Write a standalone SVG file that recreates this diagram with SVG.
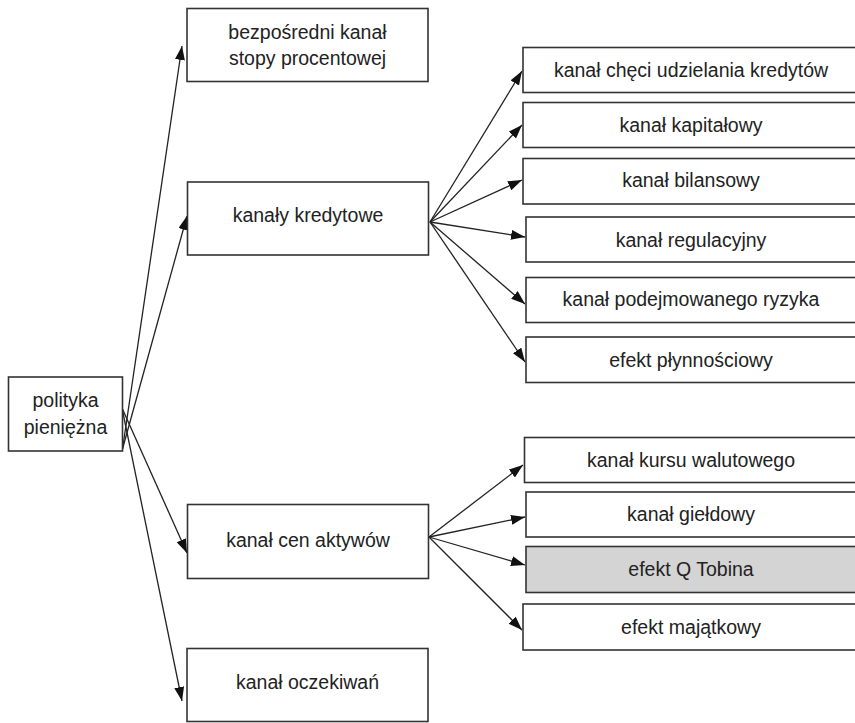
<svg xmlns="http://www.w3.org/2000/svg" width="855" height="723" viewBox="0 0 855 723">
<style>
.box{fill:#fff;stroke:#333;stroke-width:1.6}
.grey{fill:#d4d4d4}
.t{font-family:"Liberation Sans",Arial,sans-serif;font-size:19.5px;fill:#222;text-anchor:middle;dominant-baseline:central}
.c{stroke:#222;stroke-width:1.3;fill:none;marker-end:url(#ah)}
</style>
<defs>
<marker id="ah" markerUnits="userSpaceOnUse" markerWidth="15" markerHeight="11" refX="14" refY="5" orient="auto">
<path d="M0,0 L14,5 L0,10 Z" fill="#111"/>
</marker>
</defs>
<rect width="855" height="723" fill="#fff"/>
<g id="connectors">
<line class="c" x1="122.5" y1="449" x2="182" y2="46"/>
<line class="c" x1="122.5" y1="449" x2="187" y2="216"/>
<line class="c" x1="122" y1="408" x2="187" y2="553"/>
<line class="c" x1="122" y1="408" x2="182" y2="701"/>
<line class="c" x1="430" y1="222" x2="522" y2="71"/>
<line class="c" x1="430" y1="222" x2="522" y2="125"/>
<line class="c" x1="430" y1="222" x2="522" y2="180"/>
<line class="c" x1="430" y1="222" x2="525" y2="237"/>
<line class="c" x1="430" y1="222" x2="525" y2="304"/>
<line class="c" x1="430" y1="222" x2="525" y2="362"/>
<line class="c" x1="429" y1="537" x2="523" y2="465"/>
<line class="c" x1="429" y1="537" x2="525" y2="517"/>
<line class="c" x1="429" y1="537" x2="525" y2="565"/>
<line class="c" x1="429" y1="537" x2="522" y2="630"/>
</g>
<g id="polityka">
<rect class="box" x="8.5" y="377" width="114" height="74"/>
<text class="t" x="65.5" y="400">polityka</text>
<text class="t" x="65.5" y="426.5">pieniężna</text>
</g>
<g id="bezposredni">
<rect class="box" x="187" y="8.5" width="241" height="73"/>
<text class="t" x="307.5" y="32">bezpośredni kanał</text>
<text class="t" x="307.5" y="58">stopy procentowej</text>
</g>
<g id="kredytowe">
<rect class="box" x="187.5" y="182" width="241" height="73"/>
<text class="t" x="308" y="215">kanały kredytowe</text>
</g>
<g id="cen">
<rect class="box" x="187.5" y="504.5" width="241" height="74"/>
<text class="t" x="308" y="540">kanał cen aktywów</text>
</g>
<g id="oczekiwan">
<rect class="box" x="187" y="648.5" width="241" height="73"/>
<text class="t" x="307.5" y="681.5">kanał oczekiwań</text>
</g>
<g id="checi">
<rect class="box" x="523" y="47.5" width="340" height="45"/>
<text class="t" x="691" y="69.5">kanał chęci udzielania kredytów</text>
</g>
<g id="kapitalowy">
<rect class="box" x="523" y="102.5" width="340" height="45"/>
<text class="t" x="691" y="125">kanał kapitałowy</text>
</g>
<g id="bilansowy">
<rect class="box" x="523" y="158.5" width="340" height="45.5"/>
<text class="t" x="691" y="180">kanał bilansowy</text>
</g>
<g id="regulacyjny">
<rect class="box" x="526" y="217" width="340" height="45"/>
<text class="t" x="691" y="239.5">kanał regulacyjny</text>
</g>
<g id="ryzyka">
<rect class="box" x="526" y="277.5" width="340" height="45"/>
<text class="t" x="691" y="298.5">kanał podejmowanego ryzyka</text>
</g>
<g id="plynnosciowy">
<rect class="box" x="526" y="337" width="340" height="45.5"/>
<text class="t" x="691" y="359.5">efekt płynnościowy</text>
</g>
<g id="kursu">
<rect class="box" x="524.5" y="437.5" width="340" height="45"/>
<text class="t" x="691" y="460">kanał kursu walutowego</text>
</g>
<g id="gieldowy">
<rect class="box" x="526" y="492" width="340" height="45"/>
<text class="t" x="691" y="514">kanał giełdowy</text>
</g>
<g id="tobina">
<rect class="box grey" x="526" y="546.5" width="340" height="46"/>
<text class="t" x="691" y="568.5">efekt Q Tobina</text>
</g>
<g id="majatkowy">
<rect class="box" x="523" y="604" width="340" height="46"/>
<text class="t" x="691" y="627">efekt majątkowy</text>
</g>
</svg>
